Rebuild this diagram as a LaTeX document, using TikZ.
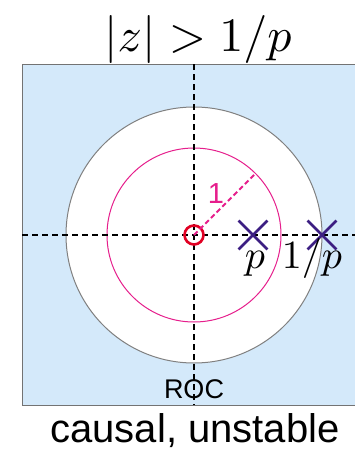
\documentclass[tikz,border=0pt]{standalone}
\usepackage{graphicx}
\usepackage{fontspec}
\setsansfont{Liberation Sans}
\usepackage{xcolor}
\usetikzlibrary{positioning,shapes.misc}

\definecolor{rocblue}{RGB}{212,233,250}
\definecolor{unitpink}{RGB}{230,30,140}
\definecolor{zerored}{RGB}{225,0,35}
\definecolor{polepurple}{RGB}{60,30,130}

\begin{document}
\begin{tikzpicture}[
    x=1pt, y=-1pt,
    axis/.style={
        draw=black, line width=1.3pt,
        dash pattern=on 6pt off 4pt
    },
    rocarea/.style={
        fill=rocblue
    },
    rocedge/.style={
        circle, draw=black!50, line width=1pt,
        fill=white, minimum size=256pt, inner sep=0pt
    },
    unitcirc/.style={
        circle, draw=unitpink, line width=1pt,
        minimum size=174pt, inner sep=0pt
    },
    radius/.style={
        draw=unitpink, line width=1.9pt,
        dash pattern=on 5pt off 3pt
    },
    zeromark/.style={
        circle, draw=zerored, line width=2.6pt,
        minimum size=19pt, inner sep=0pt
    },
    polemark/.style={
        cross out, draw=polepurple, line width=2.8pt,
        minimum size=26pt, inner sep=0pt
    },
    mlabel/.style={
        anchor=base, inner sep=0pt
    }
]

\useasboundingbox (0,0) rectangle (355,451);

% region of convergence
\fill[rocarea] (22,64) rectangle (355,405);
\draw[black!55, line width=1pt] (355,64) -- (22,64) -- (22,405) -- (355,405);

\node[rocedge] (roc) at (194,235) {};
\node[unitcirc] (unit) at (194,235) {};

% axes
\coordinate (top) at (194,64);
\coordinate (bot) at (194,405);
\coordinate (left) at (22,235);
\coordinate (right) at (355,235);
\draw[axis] (top) -- (bot);
\draw[axis] (left) -- (right);

\node[zeromark] (zero) at (194,235) {};
\draw[radius] (zero.center) -- (unit.45);
\node[font=\sffamily\fontsize{29}{32}\selectfont, text=unitpink, anchor=base, inner sep=0pt]
    (one) at (216,203) {1};

\node[polemark] (pole) at (253,235) {};
\node[polemark] (mirror) at (322,235) {};
\node[mlabel] (lp) at (255,268) {\scalebox{4}{$p$}};
\node[mlabel] (lq) at (312,268) {\scalebox{4}{$1/p$}};

\node[font=\sffamily\fontsize{27}{30}\selectfont, anchor=base, inner sep=0pt]
    (roclbl) at (194,398) {ROC};

\node[mlabel] (title) at (198,51) {\scalebox{4.8}{$|z|>1/p$}};
\node[font=\sffamily\fontsize{40}{48}\selectfont, anchor=base, inner sep=0pt]
    (caption) at (195,442) {causal, unstable};

\end{tikzpicture}
\end{document}
